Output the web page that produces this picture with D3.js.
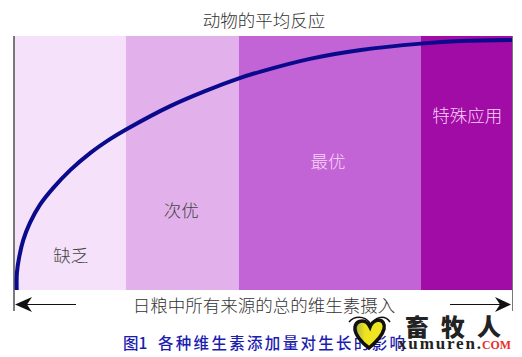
<!DOCTYPE html>
<html>
<head>
<meta charset="utf-8">
<script src="https://cdn.jsdelivr.net/npm/d3@7"></script>
<style>
  html, body { margin: 0; padding: 0; background: #fff; }
  svg { display: block; }
  text { font-family: "Noto Sans CJK SC", "Noto Sans", sans-serif; }
</style>
</head>
<body>
<div id="chart"></div>
<script>
// readings, intake 0-100 across, response 0-100 up
var bandNames = ['缺乏', '次优', '最优', '特殊应用'],
    bandEdges = [0, 22.4, 45.1, 81.7, 100],
    bandColors = ['#f5e1f9', '#e2b1ec', '#c263d6', '#a10ba6'],
    labelColors = ['#444444', '#444444', '#f8d4f6', '#f8d4f6'],
    labelCentres = [11.3, 33.5, 63, 91],
    labelLevels = [13, 30.7, 49.8, 68],
    curveIntake = [0.44, 0.48, 0.96, 1.77, 3.1, 5.1, 7.8, 11.2, 15.2, 19.2, 22.6, 31.3, 38.3, 45.1, 49.5, 59.6, 69.6, 81.7, 89.7, 100],
    curveResponse = [0, 6.7, 13.1, 19.7, 26.4, 33.5, 40.2, 47.2, 53.9, 59.4, 63.4, 72.4, 78.3, 83.3, 86, 91.1, 94.5, 97, 98, 98.4];

var titleText = '动物的平均反应',
    axisText = '日粮中所有来源的总的维生素摄入',
    figureText = '图1',
    captionText = '各种维生素添加量对生长的影响';

var width = 522,
    height = 357,
    x = d3.scaleLinear().domain([0, 100]).range([14.5, 512]),
    y = d3.scaleLinear().domain([0, 100]).range([290, 36]);

var svg = d3.select('#chart').append('svg').attr('width', width).attr('height', height);

var defs = svg.append('defs');
var heartFill = defs.append('linearGradient').attr('id', 'heart-fill').attr('x1', 0).attr('x2', 1);
heartFill.append('stop').attr('offset', '0%').attr('stop-color', '#a9b04a');
heartFill.append('stop').attr('offset', '35%').attr('stop-color', '#eee41e');
heartFill.append('stop').attr('offset', '100%').attr('stop-color', '#efe624');

// bands
svg.selectAll('rect.band').data(bandNames).enter().append('rect')
  .attr('class', 'band')
  .attr('x', function (d, i) { return x(bandEdges[i]); })
  .attr('y', y(100))
  .attr('width', function (d, i) { return x(bandEdges[i + 1]) - x(bandEdges[i]); })
  .attr('height', y(0) - y(100))
  .attr('fill', function (d, i) { return bandColors[i]; });

// frame lines
svg.append('line').attr('x1', 14).attr('x2', 14).attr('y1', 36).attr('y2', 311)
  .attr('stroke', '#222').attr('stroke-width', 1.2);
svg.append('line').attr('x1', 512.5).attr('x2', 512.5).attr('y1', 36).attr('y2', 311)
  .attr('stroke', '#777').attr('stroke-width', 1);

// response curve
var line = d3.line()
  .x(function (d) { return x(d); })
  .y(function (d, i) { return y(curveResponse[i]); })
  .curve(d3.curveCatmullRom.alpha(0.5));

svg.append('path')
  .attr('d', line(curveIntake))
  .attr('fill', 'none')
  .attr('stroke', '#0a0a8c')
  .attr('stroke-width', 4);

// band labels
svg.selectAll('text.band-label').data(bandNames).enter().append('text')
  .attr('class', 'band-label')
  .attr('x', function (d, i) { return x(labelCentres[i]); })
  .attr('y', function (d, i) { return y(labelLevels[i]); })
  .attr('text-anchor', 'middle')
  .attr('dominant-baseline', 'middle')
  .attr('font-size', 17.5)
  .attr('font-weight', 300)
  .attr('fill', function (d, i) { return labelColors[i]; })
  .text(function (d) { return d; });

svg.append('text').attr('x', 264).attr('y', 22)
  .attr('text-anchor', 'middle').attr('dominant-baseline', 'middle')
  .attr('font-size', 17.5).attr('font-weight', 300).attr('fill', '#333')
  .text(titleText);

svg.append('text').attr('x', 264).attr('y', 307.5)
  .attr('text-anchor', 'middle').attr('dominant-baseline', 'middle')
  .attr('font-size', 17.5).attr('font-weight', 300).attr('fill', '#333')
  .text(axisText);

// axis arrows
svg.append('line').attr('x1', 26).attr('x2', 76).attr('y1', 304.5).attr('y2', 304.5).attr('stroke', '#111').attr('stroke-width', 1);
svg.append('line').attr('x1', 450).attr('x2', 500).attr('y1', 304.5).attr('y2', 304.5).attr('stroke', '#111').attr('stroke-width', 1);
svg.append('path').attr('d', 'M15,304.5 L32,297 L27,304.5 L32,312 Z').attr('fill', '#111');
svg.append('path').attr('d', 'M511,304.5 L495,297 L500,304.5 L495,312 Z').attr('fill', '#111');

// caption
svg.append('text').attr('x', 123).attr('y', 344.5)
  .attr('dominant-baseline', 'middle')
  .attr('font-size', 15.5).attr('font-weight', 500).attr('fill', '#1c1cb0')
  .text(figureText);
svg.append('text').attr('x', 158).attr('y', 344.5)
  .attr('dominant-baseline', 'middle')
  .attr('font-size', 15.5).attr('font-weight', 500).attr('fill', '#1c1cb0')
  .attr('textLength', 247).attr('lengthAdjust', 'spacing')
  .text(captionText);

// watermark
var mark = svg.append('g');
mark.append('path')
  .attr('d', 'M369,348 C362,343 354,334 355,327 C356,321 362,320 366,322 C368,323 369,325 370,327 C371,324 374,321 378,320 C383,320 385,324 384,329 C382,337 375,343 369,348 Z')
  .attr('fill', 'url(#heart-fill)').attr('stroke', '#111').attr('stroke-width', 3.5);
mark.append('path').attr('d', 'M349,322 C354,316 364,315 370,323')
  .attr('fill', 'none').attr('stroke', '#111').attr('stroke-width', 1.5);
mark.append('path').attr('d', 'M372,323 C378,315 386,316 390,322')
  .attr('fill', 'none').attr('stroke', '#111').attr('stroke-width', 1.5);
mark.append('text').attr('x', 405).attr('y', 336)
  .attr('font-size', 24).attr('font-weight', 900).attr('fill', '#222')
  .attr('textLength', 96).attr('lengthAdjust', 'spacing')
  .text('畜牧人');
mark.append('text').attr('x', 398).attr('y', 349)
  .style('font-family', '"Liberation Serif", serif')
  .attr('font-size', 17).attr('font-weight', 700).attr('fill', '#222')
  .attr('textLength', 83).attr('lengthAdjust', 'spacing')
  .text('xumuren.');
mark.append('text').attr('x', 482).attr('y', 349)
  .style('font-family', '"Liberation Serif", serif')
  .attr('font-size', 13).attr('font-weight', 700).attr('fill', '#e8302a')
  .attr('textLength', 29).attr('lengthAdjust', 'spacingAndGlyphs')
  .text('COM');
</script>
</body>
</html>
